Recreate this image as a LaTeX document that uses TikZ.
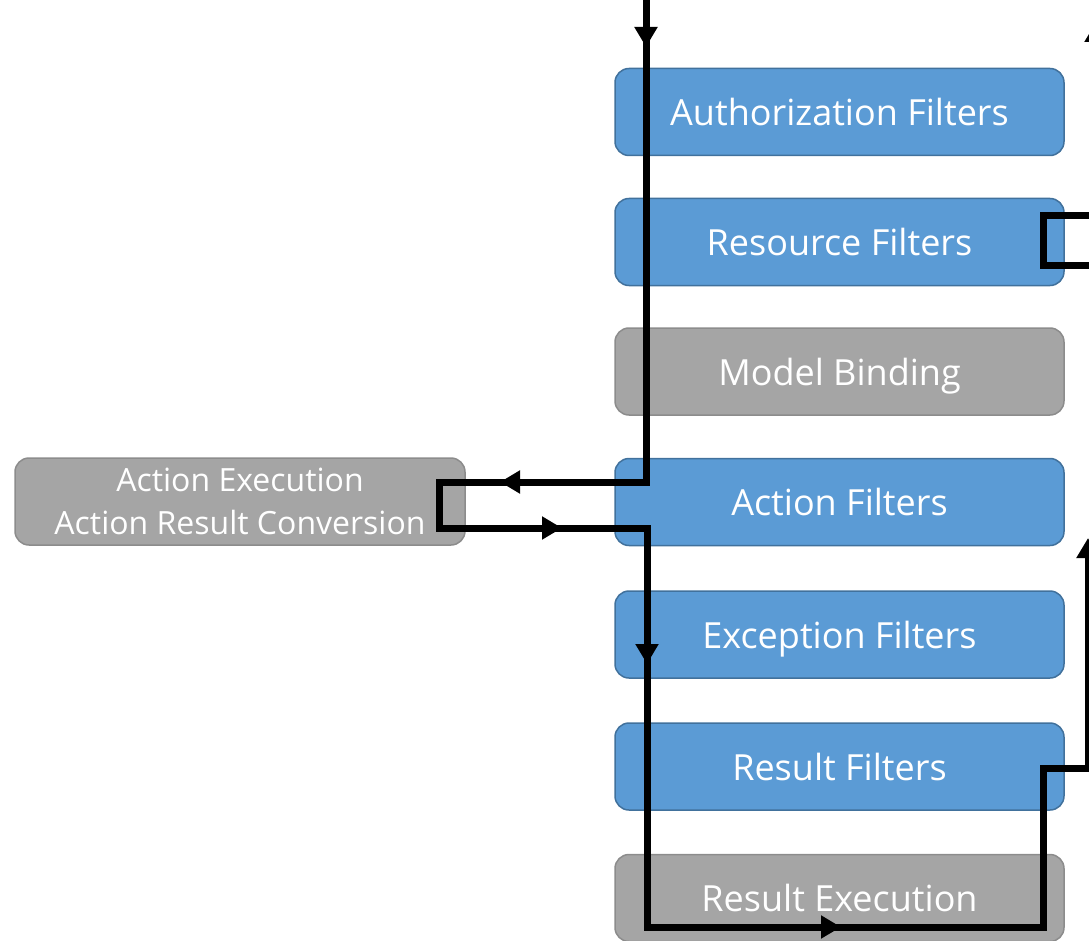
\documentclass[tikz,border=0pt]{standalone}
\usepackage{fontspec}
\setmainfont{Open Sans}
\usetikzlibrary{arrows.meta,decorations.markings}

\definecolor{stageblue}{HTML}{5B9BD5}
\definecolor{stageblueedge}{HTML}{41719C}
\definecolor{stagegray}{HTML}{A5A5A5}
\definecolor{stagegrayedge}{HTML}{8C8C8C}

\tikzset{
  flowtip/.tip={Triangle[length=20pt,width=22pt]},
  stage/.style={rounded corners=14pt, line width=1.5pt, minimum width=449pt,
    minimum height=87pt, text=white, align=center, inner sep=0pt,
    font=\fontsize{36}{42}\selectfont, text height=27pt, text depth=0pt},
  filterstage/.style={stage, fill=stageblue, draw=stageblueedge},
  plainstage/.style={stage, fill=stagegray, draw=stagegrayedge},
  sidestage/.style={fill=stagegray, draw=stagegrayedge, rounded corners=14pt,
    line width=1.5pt, minimum width=450pt, minimum height=87pt, text=white,
    align=center, inner sep=0pt, font=\fontsize{32}{43}\selectfont},
  flow/.style={line width=7pt, black},
  flowmarks/.style={postaction={decorate}, decoration={markings,
    mark=at position 52pt with {\arrow{flowtip}},
    mark=at position 633pt with {\arrow{flowtip}},
    mark=at position 863pt with {\arrow{flowtip}},
    mark=at position 1084pt with {\arrow{flowtip}},
    mark=at position 1541pt with {\arrow{flowtip}}}}
}

\begin{document}
\begin{tikzpicture}[x=1pt, y=-1pt]
  \useasboundingbox (0,0) rectangle (1089,941);
  \clip (0,0) rectangle (1089,941);

  % pipeline stages
  \node[filterstage] (auth)  at (839.5,112) {Authorization Filters};
  \node[filterstage] (res)   at (839.5,242) {Resource Filters};
  \node[plainstage]  (bind)  at (839.5,371.5) {Model Binding};
  \node[filterstage] (act)   at (839.5,502) {Action Filters};
  \node[filterstage] (exc)   at (839.5,634.5) {Exception Filters};
  \node[filterstage] (resf)  at (839.5,766.5) {Result Filters};
  \node[plainstage]  (rexec) at (839.5,898) {Result Execution};
  \node[sidestage]   (exec)  at (240,501.5) {Action Execution\\Action Result Conversion};

  % request path through the pipeline
  \coordinate (in)   at (646,-5);
  \coordinate (a1)   at (646,482);
  \coordinate (a2)   at (439,482);
  \coordinate (a3)   at (439,528);
  \coordinate (a4)   at (647,528);
  \coordinate (a5)   at (647,927);
  \coordinate (a6)   at (1043,927);
  \coordinate (a7)   at (1043,768);
  \coordinate (a8)   at (1088,768);
  \coordinate (back) at (1088,538);
  \draw[flow, flowmarks, -flowtip]
    (in) -- (a1) -- (a2) -- (a3) -- (a4) -- (a5) -- (a6) -- (a7) -- (a8) -- (back);

  % short-circuit loop at the resource filters
  \coordinate (r0) at (1100,216);
  \coordinate (r1) at (1043,216);
  \coordinate (r2) at (1043,266);
  \coordinate (r3) at (1100,266);
  \draw[flow] (r0) -- (r1) -- (r2) -- (r3);

  % response leaving the pipeline
  \coordinate (o0) at (1096,200);
  \coordinate (o1) at (1096,22);
  \draw[flow, -flowtip] (o0) -- (o1);
\end{tikzpicture}
\end{document}
